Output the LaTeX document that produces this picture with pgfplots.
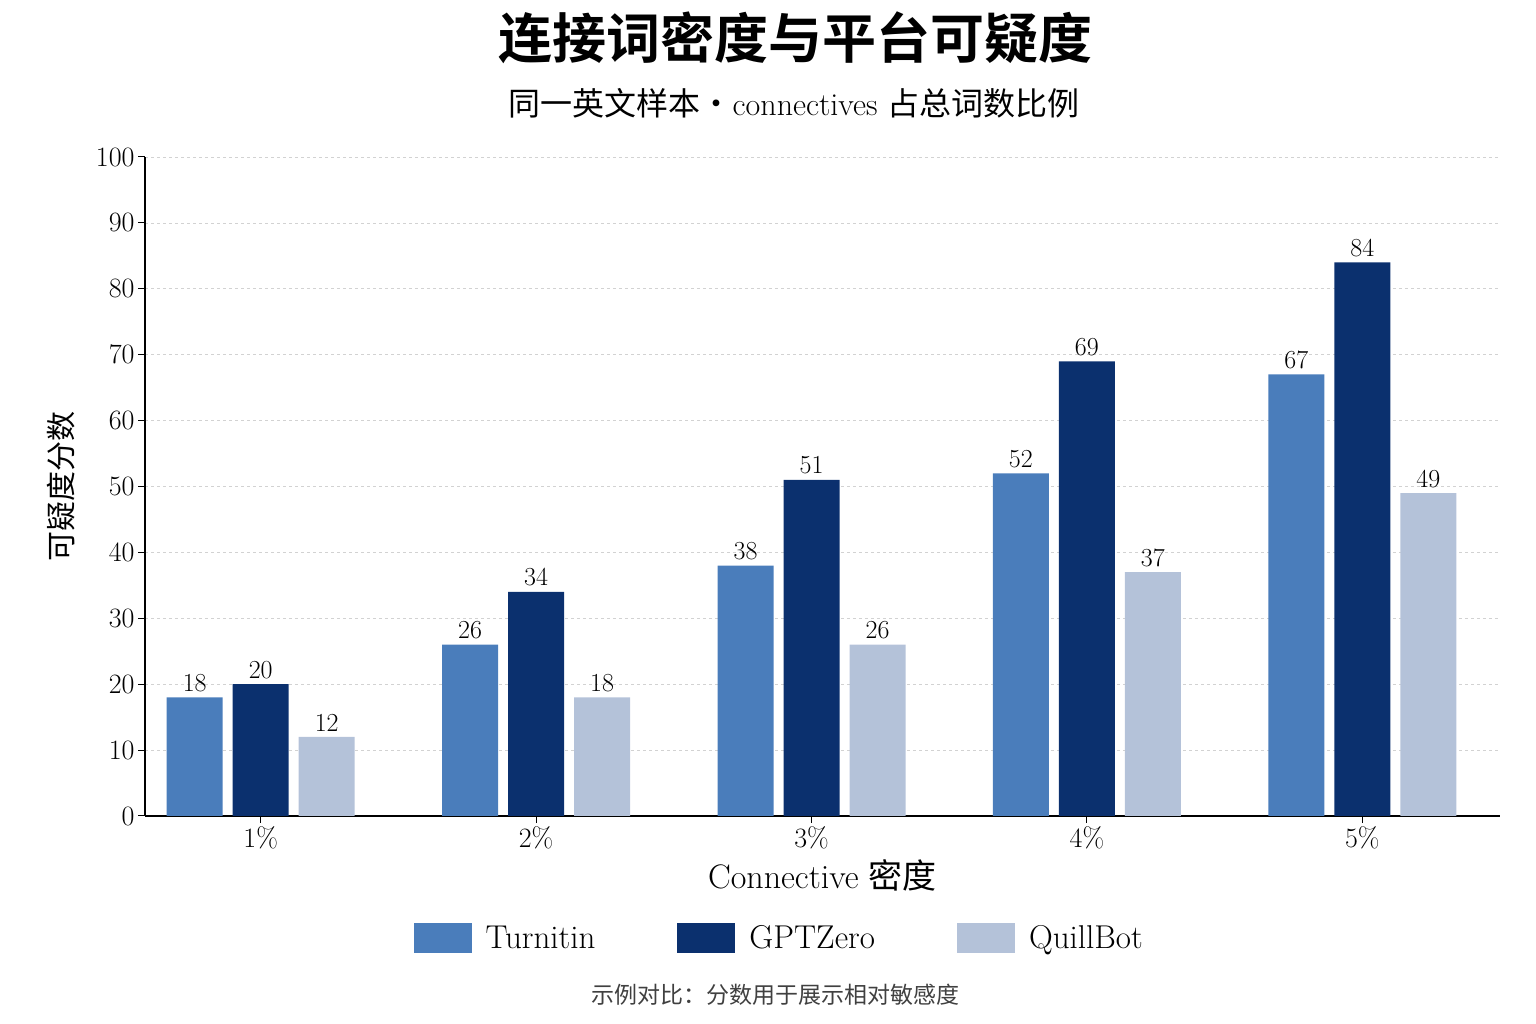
\documentclass[border=0pt]{standalone}
\usepackage{fontspec}
\usepackage{pgfplots}
\pgfplotsset{compat=1.18}
\newfontfamily\cjk{Noto Sans CJK SC}
\newfontfamily\cjkb{Noto Sans CJK SC Bold}
\definecolor{cT}{HTML}{4A7DBB}
\definecolor{cG}{HTML}{0B306E}
\definecolor{cQ}{HTML}{B4C2D9}
\begin{document}
\begin{tikzpicture}
\path[use as bounding box] (-145pt,-208pt) rectangle (1391pt,816pt);
\begin{axis}[at={(115.7pt,0)},anchor=origin,
  width=1355pt,height=659pt,scale only axis,
  xmin=-0.42,xmax=4.5,ymin=0,ymax=100,
  xtick={0,1,2,3,4},xticklabels={1\%,2\%,3\%,4\%,5\%},
  ytick={0,10,...,100},
  axis x line*=bottom, axis y line*=left,
  axis line style={line width=1.3pt},
  tick style={line width=1pt,black},
  tick align=outside, major tick length=7pt,
  ymajorgrids, grid style={dashed,gray!35,line width=0.7pt},
  x tick label style={font=\fontsize{28}{32}\selectfont},
  y tick label style={font=\fontsize{28}{32}\selectfont},
  /pgf/number format/assume math mode=true,
  xlabel={\fontsize{34}{38}\selectfont Connective {\cjk 密度}},
  xlabel style={yshift=-4pt},
  ylabel={\fontsize{30}{34}\selectfont\cjk 可疑度分数},
  ylabel style={yshift=14pt},
  ybar, bar width=56pt,
  nodes near coords,
  every node near coord/.append style={font=\fontsize{26}{30}\selectfont,black,yshift=2pt},
  legend columns=3,
  legend style={at={(0.468,-0.185)},anchor=center,draw=none,
    font=\fontsize{33}{36}\selectfont,
    /tikz/every even column/.append style={column sep=80pt}},
  legend image code/.code={\fill[#1] (0pt,-15pt) rectangle (58pt,15pt);},
]
\addplot[fill=cT,draw=none,bar shift=-66pt] coordinates {(0,18)(1,26)(2,38)(3,52)(4,67)};
\addplot[fill=cG,draw=none,bar shift=0pt] coordinates {(0,20)(1,34)(2,51)(3,69)(4,84)};
\addplot[fill=cQ,draw=none,bar shift=66pt] coordinates {(0,12)(1,18)(2,26)(3,37)(4,49)};
\legend{\hspace{12pt}Turnitin,\hspace{12pt}GPTZero,\hspace{12pt}QuillBot}
\end{axis}
\node at (650pt,778pt) {\fontsize{54}{58}\selectfont\cjkb 连接词密度与平台可疑度};
\node at (649pt,713pt) {\fontsize{32}{36}\selectfont{\cjk 同一英文样本・}connectives {\cjk 占总词数比例}};
\node[text=black!75] at (630pt,-179pt) {\fontsize{23}{28}\selectfont\cjk 示例对比：分数用于展示相对敏感度};
\end{tikzpicture}
\end{document}
